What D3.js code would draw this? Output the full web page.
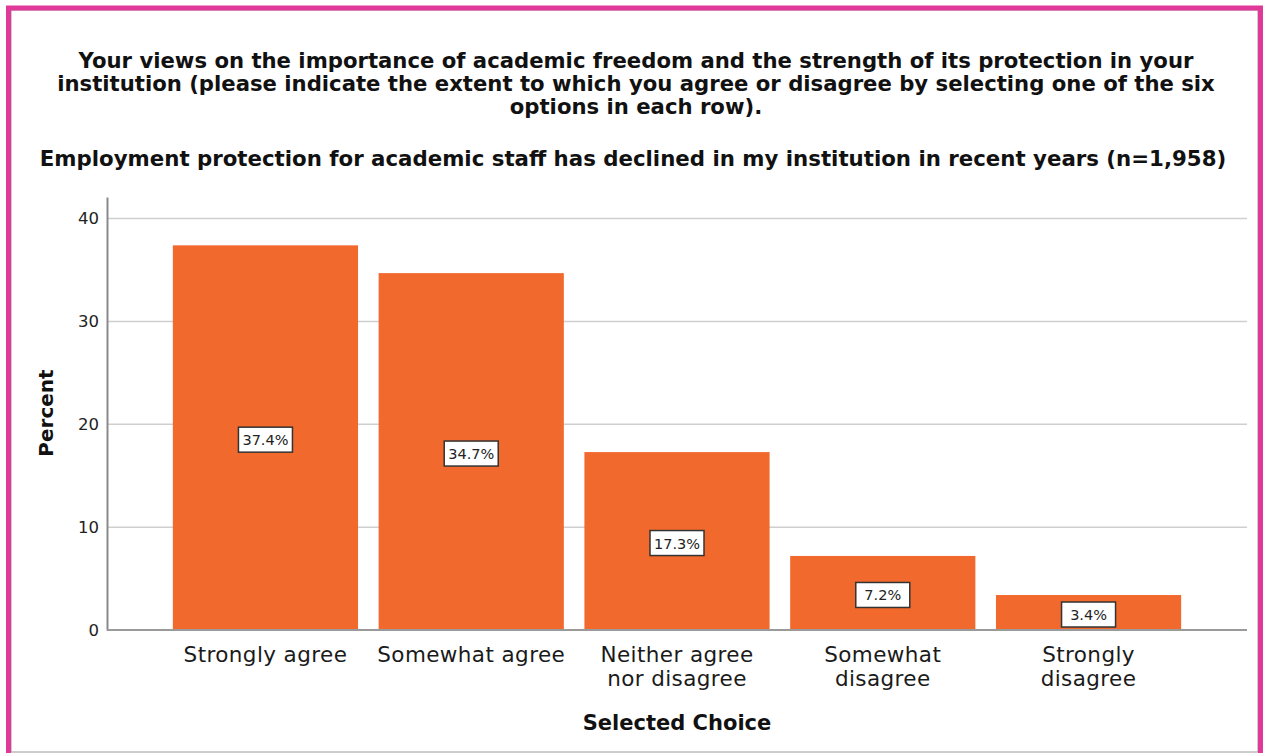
<!DOCTYPE html>
<html lang="en">

<head>
  <meta charset="UTF-8">
  <title>Employment protection</title>
  <style>
    html,
    body {
      margin: 0;
      background: #fff;
    }

    svg {
      display: block;
      font-family: "DejaVu Sans", sans-serif;
    }
  </style>
</head>

<body>
  <div id="main"></div>

  <script src="https://cdn.jsdelivr.net/npm/d3@7/dist/d3.min.js"></script>

  <script>
    // 数据
    const categories = ['Strongly agree', 'Somewhat agree', 'Neither agree nor disagree', 'Somewhat disagree', 'Strongly disagree']
    const categoryLines = [['Strongly agree'], ['Somewhat agree'], ['Neither agree', 'nor disagree'], ['Somewhat', 'disagree'], ['Strongly', 'disagree']]
    const percents = [37.4, 34.7, 17.3, 7.2, 3.4]
    const yTicks = [0, 10, 20, 30, 40]
    const titleLines = [
      'Your views on the importance of academic freedom and the strength of its protection in your',
      'institution (please indicate the extent to which you agree or disagree by selecting one of the six',
      'options in each row).'
    ]
    const subtitle = 'Employment protection for academic staff has declined in my institution in recent years (n=1,958)'

    const W = 1263, H = 753
    const svg = d3.select('#main').append('svg').attr('width', W).attr('height', H)

    // 外框
    svg.append('rect')
      .attr('x', 11).attr('y', 10).attr('width', 1247).attr('height', 742)
      .attr('fill', '#fff').attr('stroke', '#9a9a9a').attr('stroke-width', 1)
    svg.append('path')
      .attr('d', 'M8.5,760 V8 H1260.5 V760')
      .attr('fill', 'none').attr('stroke', '#e0399a').attr('stroke-width', 5)

    // 标题
    const cx = 636
    svg.append('g').selectAll('text')
      .data(titleLines)
      .join('text')
      .attr('x', cx)
      .attr('y', (d, i) => 68 + i * 23)
      .attr('text-anchor', 'middle')
      .attr('font-weight', 'bold')
      .attr('font-size', 21.2)
      .attr('fill', '#111')
      .text(d => d)

    svg.append('text')
      .attr('x', cx - 3).attr('y', 166)
      .attr('text-anchor', 'middle')
      .attr('font-weight', 'bold')
      .attr('font-size', 21.3)
      .attr('fill', '#111')
      .text(subtitle)

    // 比例尺
    const x = d3.scaleBand()
      .domain(categories)
      .range([107, 1247])
      .paddingInner(0.1)
      .paddingOuter(0.32)
    const y = d3.scaleLinear().domain([0, 42.1]).range([630, 197])

    // 网格线
    svg.append('g').selectAll('line')
      .data(yTicks.filter(d => d > 0))
      .join('line')
      .attr('x1', 107).attr('x2', 1247)
      .attr('y1', d => y(d)).attr('y2', d => y(d))
      .attr('stroke', '#cfcfcf').attr('stroke-width', 1.5)

    // 柱子
    svg.append('g').selectAll('rect')
      .data(percents)
      .join('rect')
      .attr('x', (d, i) => x(categories[i]))
      .attr('y', d => y(d))
      .attr('width', x.bandwidth())
      .attr('height', d => y(0) - y(d))
      .attr('fill', '#f2692d')

    // 数值标签
    const lab = svg.append('g').selectAll('g')
      .data(percents)
      .join('g')
      .attr('transform', (d, i) => `translate(${x(categories[i]) + x.bandwidth() / 2},${(y(d) + y(0)) / 2 + 2})`)
    lab.append('rect')
      .attr('x', -27).attr('y', -12.5).attr('width', 54).attr('height', 25)
      .attr('fill', '#fff').attr('stroke', '#333').attr('stroke-width', 1.5)
    lab.append('text')
      .attr('text-anchor', 'middle')
      .attr('dy', 5.5)
      .attr('font-size', 14.5)
      .attr('fill', '#222')
      .text(d => d.toFixed(1) + '%')

    // y 轴
    const yAxis = svg.append('g')
      .attr('transform', 'translate(107,0)')
      .call(d3.axisLeft(y).tickValues(yTicks).tickSize(0).tickPadding(8))
    yAxis.select('.domain').attr('stroke', '#8a8a8a').attr('stroke-width', 2)
    yAxis.selectAll('text').attr('font-size', 16.5).attr('fill', '#222').attr('font-family', '"DejaVu Sans", sans-serif')

    // x 轴
    svg.append('line')
      .attr('x1', 107).attr('x2', 1247)
      .attr('y1', y(0)).attr('y2', y(0))
      .attr('stroke', '#9a9a9a').attr('stroke-width', 2)

    const xl = svg.append('g').selectAll('text')
      .data(categories)
      .join('text')
      .attr('x', d => x(d) + x.bandwidth() / 2)
      .attr('y', 662)
      .attr('text-anchor', 'middle')
      .attr('font-size', 21.5)
      .attr('letter-spacing', 0.4)
      .attr('fill', '#1a1a1a')
    xl.selectAll('tspan')
      .data((d, i) => categoryLines[i])
      .join('tspan')
      .attr('x', function () { return this.parentNode.getAttribute('x') })
      .attr('dy', (d, i) => i ? 24 : 0)
      .text(d => d)

    // 轴标题
    svg.append('text')
      .attr('x', 677).attr('y', 730)
      .attr('text-anchor', 'middle')
      .attr('font-weight', 'bold')
      .attr('font-size', 21)
      .attr('fill', '#111')
      .text('Selected Choice')

    svg.append('text')
      .attr('transform', 'translate(53,413) rotate(-90)')
      .attr('text-anchor', 'middle')
      .attr('font-weight', 'bold')
      .attr('font-size', 20)
      .attr('fill', '#111')
      .text('Percent')
  </script>
</body>

</html>
